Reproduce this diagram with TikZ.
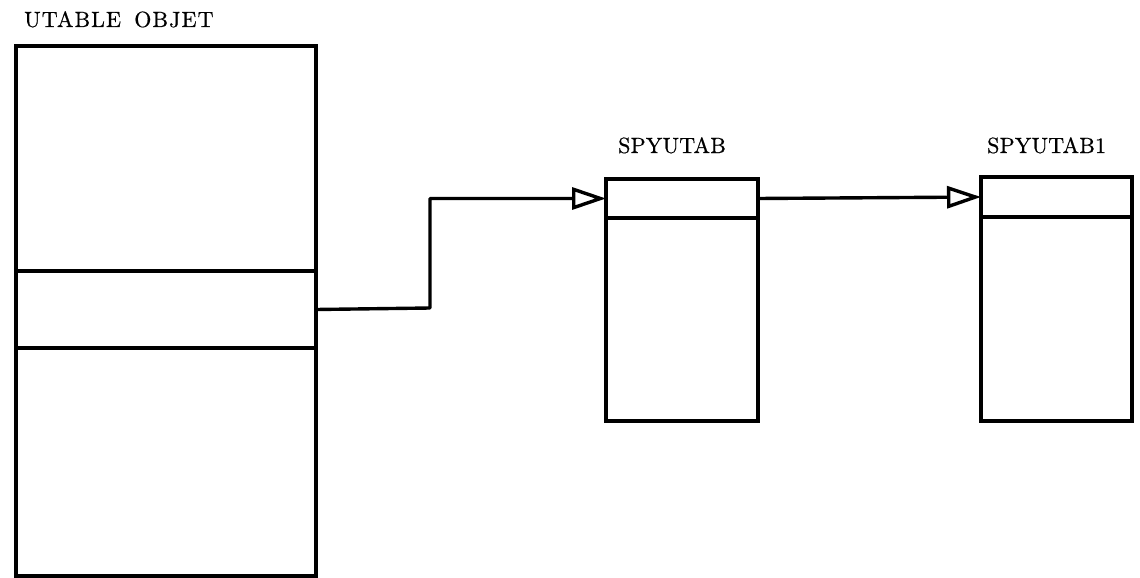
\documentclass[tikz,border=0pt]{standalone}
\usepackage{fontspec}
\setmainfont{Latin Modern Roman}
\newfontfamily\lblfont{lmroman10-regular}[Extension=.otf, LetterSpace=1, FakeBold=0.6]
\usetikzlibrary{arrows.meta}
\tikzset{
  x=1pt, y=-1pt,
  part/.style={draw, line width=3.4pt, rectangle, inner sep=0pt, outer sep=0pt, anchor=north west},
  link/.style={line width=3.4pt, line join=round, -{Triangle[open, length=34pt, width=22pt, line width=3.4pt]}},
  lbl/.style={anchor=base west, inner sep=0pt, font=\lblfont\fontsize{22}{26}\selectfont},
}
\begin{document}
\begin{tikzpicture}
\useasboundingbox (0,0) rectangle (1140,578);
% big object table
\node[part, minimum width=300pt, minimum height=225pt] (top) at (16,46) {};
\node[part, minimum width=300pt, minimum height=77pt] (mid) at (16,271) {};
\node[part, minimum width=300pt, minimum height=228pt] (bot) at (16,348) {};
\node[lbl, font=\lblfont\fontsize{22}{26}\selectfont\addfontfeature{LetterSpace=5}] (t0) at (24,27) {UTABLE\hspace{0.6em}OBJET};
% SPYUTAB
\node[part, minimum width=152pt, minimum height=39pt] (h1) at (606,179) {};
\node[part, minimum width=152pt, minimum height=203pt] (b1) at (606,218) {};
\node[lbl] (t1) at (618,153) {SPYUTAB};
% SPYUTAB1
\node[part, minimum width=151pt, minimum height=40pt] (h2) at (981,177) {};
\node[part, minimum width=151pt, minimum height=204pt] (b2) at (981,217) {};
\node[lbl] (t2) at (987,153) {SPYUTAB1};
% connectors
\coordinate (bend) at (430,308);
\draw[link] (mid.east) -- (bend) |- (h1.west);
\draw[link] (h1.east) -- (h2.west);
\end{tikzpicture}
\end{document}
